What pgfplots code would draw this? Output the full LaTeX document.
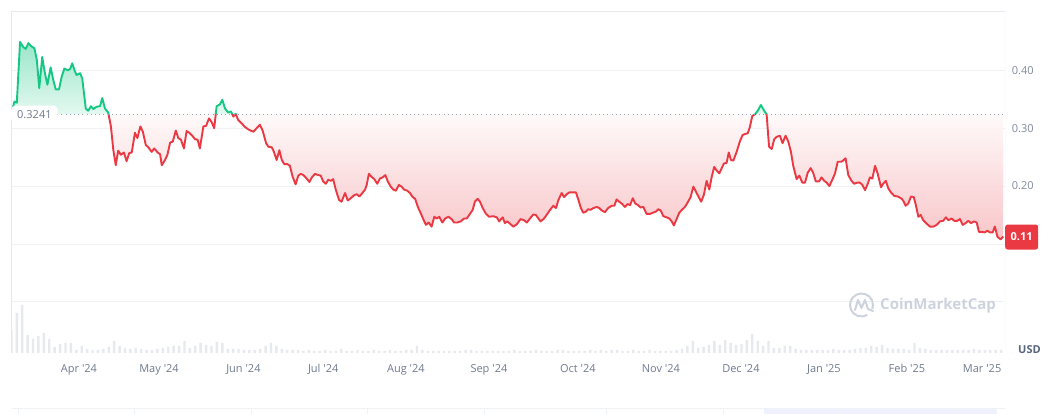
\documentclass[border=0pt]{standalone}
\usepackage{pgfplots}
\pgfplotsset{compat=1.18}
\usepackage{pgfplotstable}
\usepackage{fontspec}
\setmainfont{Open Sans}

\definecolor{upc}{HTML}{16C784}
\definecolor{downc}{HTML}{EA3943}
\definecolor{gridc}{HTML}{EFF2F5}
\definecolor{framec}{HTML}{E6E9EE}
\definecolor{labc}{HTML}{808A9D}
\definecolor{xlabc}{HTML}{6F7A8E}
\definecolor{dotc}{HTML}{9AA3B2}
\definecolor{volc}{HTML}{E6E9ED}
\definecolor{wmc}{HTML}{CDD3DD}
\definecolor{stripc}{HTML}{EFF2FE}
\definecolor{usdc}{HTML}{58667E}

% price, x = days since 1 Apr 2024
\pgfplotstableread{
d v
-24.9 0.326
-23.9 0.346
-23.0 0.344
-21.8 0.449
-20.6 0.440
-19.7 0.437
-18.7 0.447
-17.8 0.442
-16.5 0.438
-15.6 0.418
-14.7 0.369
-13.6 0.423
-12.8 0.400
-11.7 0.375
-10.5 0.405
-9.5 0.383
-8.6 0.367
-7.4 0.367
-6.4 0.389
-5.4 0.403
-4.2 0.400
-3.3 0.402
-2.5 0.412
-1.5 0.398
-0.9 0.392
0.4 0.395
1.2 0.386
2.5 0.334
3.4 0.330
4.4 0.338
5.3 0.333
6.5 0.337
7.8 0.338
8.6 0.352
9.6 0.334
10.8 0.327
11.8 0.303
12.7 0.262
13.6 0.236
14.5 0.261
15.5 0.254
16.6 0.258
17.6 0.243
18.6 0.257
19.5 0.258
20.7 0.292
21.6 0.283
22.7 0.303
23.6 0.294
24.7 0.271
25.6 0.267
26.9 0.259
27.8 0.265
29.1 0.258
30.0 0.255
30.6 0.236
31.8 0.245
32.7 0.254
33.7 0.275
34.7 0.277
35.8 0.296
36.7 0.283
37.7 0.280
38.8 0.265
39.8 0.295
40.8 0.292
41.9 0.287
42.9 0.281
43.9 0.280
44.7 0.265
46.0 0.303
47.0 0.304
48.1 0.317
49.1 0.310
50.0 0.300
50.9 0.338
52.1 0.341
53.0 0.349
54.0 0.334
55.2 0.327
56.2 0.329
57.1 0.320
57.9 0.325
58.9 0.314
60.2 0.308
61.4 0.302
62.6 0.298
63.8 0.295
64.5 0.294
65.7 0.300
66.9 0.306
67.9 0.296
69.2 0.274
70.0 0.268
71.3 0.267
72.1 0.259
73.1 0.245
74.1 0.262
75.0 0.245
75.9 0.238
77.0 0.238
78.0 0.235
79.0 0.216
80.1 0.203
81.1 0.218
82.0 0.221
83.0 0.219
84.2 0.213
85.2 0.207
86.1 0.215
87.3 0.221
88.5 0.219
89.4 0.218
90.3 0.208
91.3 0.204
92.2 0.211
93.2 0.209
94.0 0.212
95.0 0.193
96.2 0.176
97.1 0.173
98.4 0.188
99.4 0.175
100.5 0.179
101.7 0.184
102.7 0.186
103.7 0.182
104.8 0.188
105.8 0.194
106.4 0.202
107.2 0.221
108.2 0.216
109.2 0.212
110.3 0.204
111.3 0.213
112.3 0.215
113.3 0.219
114.2 0.208
115.3 0.199
116.2 0.194
117.2 0.192
118.3 0.202
119.3 0.199
120.2 0.194
121.4 0.192
122.4 0.188
123.4 0.181
124.3 0.178
125.3 0.164
126.4 0.153
127.3 0.143
128.3 0.133
129.3 0.137
130.4 0.130
131.4 0.147
132.3 0.144
133.2 0.147
134.4 0.137
135.4 0.144
136.6 0.147
137.8 0.143
138.7 0.137
139.9 0.137
141.2 0.139
142.4 0.144
143.4 0.144
144.6 0.152
145.6 0.159
146.4 0.173
147.4 0.178
148.3 0.173
149.3 0.162
150.5 0.152
151.7 0.147
153.2 0.148
154.5 0.146
155.4 0.139
156.7 0.146
157.5 0.136
158.4 0.139
159.4 0.135
160.6 0.130
161.9 0.134
163.3 0.143
164.6 0.141
165.6 0.137
166.8 0.144
168.0 0.151
169.0 0.150
169.9 0.144
170.7 0.139
172.0 0.144
173.2 0.152
174.4 0.160
175.4 0.166
176.4 0.162
177.3 0.176
178.5 0.188
179.4 0.181
180.4 0.186
181.3 0.189
182.6 0.189
183.8 0.189
184.7 0.176
185.6 0.162
186.5 0.154
187.5 0.156
188.3 0.160
189.2 0.159
190.2 0.162
191.5 0.164
192.4 0.162
193.3 0.158
194.5 0.155
195.7 0.162
197.0 0.166
198.0 0.166
198.8 0.177
199.8 0.173
200.9 0.169
201.9 0.164
202.9 0.169
203.8 0.167
204.8 0.179
205.7 0.170
206.8 0.167
207.7 0.163
208.7 0.164
209.9 0.152
211.2 0.152
212.2 0.154
213.4 0.156
214.2 0.160
215.1 0.158
216.1 0.148
217.3 0.146
218.3 0.144
219.2 0.139
220.0 0.132
221.0 0.143
222.0 0.154
223.0 0.159
224.1 0.164
225.0 0.171
226.2 0.181
227.2 0.199
228.2 0.190
229.2 0.181
230.1 0.173
231.1 0.185
232.1 0.209
233.1 0.194
234.0 0.216
234.9 0.233
235.8 0.227
236.8 0.222
237.7 0.231
238.5 0.239
239.5 0.240
240.3 0.258
241.1 0.245
242.0 0.244
243.2 0.259
244.4 0.277
245.4 0.288
246.3 0.290
247.3 0.291
248.1 0.302
249.0 0.321
250.0 0.324
251.0 0.330
252.2 0.340
253.4 0.330
254.3 0.324
255.2 0.268
256.2 0.264
257.1 0.281
258.0 0.285
259.2 0.287
260.2 0.274
261.3 0.287
262.3 0.277
263.3 0.259
264.1 0.236
265.4 0.212
266.4 0.218
267.5 0.206
268.5 0.206
269.5 0.223
270.6 0.231
271.5 0.223
272.5 0.208
273.7 0.208
274.6 0.215
275.6 0.209
276.5 0.206
277.5 0.200
278.6 0.211
279.6 0.222
280.6 0.242
281.8 0.242
282.6 0.244
283.5 0.248
284.5 0.219
285.7 0.209
286.7 0.204
287.8 0.206
288.8 0.206
289.7 0.202
290.7 0.193
291.7 0.204
292.5 0.215
293.4 0.213
294.4 0.235
295.4 0.221
296.6 0.198
297.4 0.204
298.4 0.209
299.3 0.196
300.3 0.189
301.5 0.183
302.8 0.182
304.0 0.179
304.8 0.175
305.7 0.166
306.7 0.170
307.7 0.182
308.7 0.181
309.5 0.167
310.4 0.147
311.3 0.150
312.2 0.141
313.5 0.135
314.7 0.130
315.9 0.130
317.2 0.133
318.4 0.139
319.6 0.140
320.6 0.146
321.5 0.141
322.7 0.144
323.7 0.140
324.8 0.140
325.8 0.143
326.8 0.133
327.9 0.136
328.9 0.140
329.9 0.136
331.0 0.139
332.0 0.137
332.8 0.121
334.0 0.121
335.0 0.120
335.9 0.123
336.9 0.120
337.9 0.120
338.7 0.130
339.7 0.112
340.9 0.108
341.8 0.113
}\price

% volume (bars every second day, height in arbitrary units)
\pgfplotstableread{
d vol
-25 23
-23 40
-21 48
-19 18
-17 14
-15 17
-13 20
-11 14
-9 6
-7 9
-5 10
-3 10
-1 3
1 7
3 4
5 3
7 3
9 4
11 6
13 12
15 7
17 5
19 4
21 5
23 4
25 3
27 3
29 4
31 5
33 6
35 7
37 7
39 12
41 5
43 7
45 10
47 8
49 7
51 11
53 10
55 4
57 4
59 4
61 3
63 3
65 3
67 4
69 7
71 10
73 7
75 4
77 3
79 3
81 3
83 2
85 3
87 2
89 2
91 3
93 2
95 2
97 4
99 2
101 2
103 3
105 2
107 2
109 3
111 2
113 2
115 3
117 2
119 2
121 3
123 3
125 7
127 3
129 2
131 2
133 2
135 2
137 2
139 2
141 2
143 3
145 3
147 2
149 2
151 2
153 2
155 2
157 2
159 2
161 3
163 2
165 2
167 2
169 3
171 2
173 2
175 2
177 3
179 3
181 2
183 2
185 2
187 2
189 3
191 2
193 3
195 2
197 3
199 3
201 2
203 2
205 3
207 2
209 2
211 3
213 2
215 2
217 2
219 2
221 3
223 4
225 7
227 12
229 5
231 6
233 8
235 12
237 8
239 13
241 10
243 8
245 9
247 13
249 19
251 12
253 7
255 12
257 5
259 5
261 7
263 7
265 4
267 3
269 3
271 3
273 3
275 3
277 3
279 4
281 3
283 3
285 3
287 4
289 5
291 5
293 7
295 6
297 8
299 5
301 4
303 4
305 4
307 3
309 10
311 5
313 4
315 3
317 3
319 3
321 3
323 3
325 3
327 3
329 3
331 4
333 3
335 3
337 3
339 3
341 3
}\volume

\pgfplotsset{
  base/.style={
    scale only axis, width=994pt, anchor=south west,
    xmin=-25.15, xmax=342.46,
  },
}

\begin{document}
\begin{tikzpicture}[x=1pt,y=1pt]
\useasboundingbox (0,0) rectangle (1061,414);

% volume
\begin{axis}[base, at={(11pt,61pt)}, height=51pt, ymin=0, ymax=51, hide axis]
\addplot[ybar, bar width=2.4pt, fill=volc, draw=none] table[x=d,y=vol]{\volume};
\end{axis}

% grid, frame and labels
\begin{axis}[base, at={(11pt,61pt)}, height=342pt,
  ymin=-0.0883, ymax=0.5024,
  axis line style={draw=none}, tick style={draw=none},
  ytick={0,0.1,0.2,0.3,0.4}, yticklabels={,,0.20,0.30,0.40},
  yticklabel pos=right,
  ymajorgrids, grid style={gridc, line width=0.9pt},
  xtick={0,29.6,60.8,90.3,120.9,151.6,184.5,215.2,244.8,275.5,306.2,334},
  xticklabels={Apr \textquotesingle24, May \textquotesingle24, Jun \textquotesingle24,
    Jul \textquotesingle24, Aug \textquotesingle24, Sep \textquotesingle24,
    Oct \textquotesingle24, Nov \textquotesingle24, Dec \textquotesingle24,
    Jan \textquotesingle25, Feb \textquotesingle25, Mar \textquotesingle25},
  yticklabel style={anchor=west, inner sep=0pt, xshift=6.7pt,
    font=\fontsize{11}{13}\selectfont, text=labc},
  xticklabel style={anchor=base, inner sep=0pt, yshift=-19.7pt,
    font=\fontsize{11}{13}\selectfont, text=xlabc},
]
\draw[framec, line width=0.9pt] (rel axis cs:0,0) -- (rel axis cs:0,1)
  -- (rel axis cs:1,1) -- (rel axis cs:1,0);
\end{axis}

% above the open price
\begin{axis}[base, at={(11pt,299.77pt)}, height=103.23pt,
  ymin=0.3241, ymax=0.5024, hide axis]
\addplot[draw=none, fill opacity=0.9, top color=upc!48!white, bottom color=upc!13!white,
  y filter/.expression={max(y,0.3241)}]
  table[x=d,y=v]{\price} -- (axis cs:341.8,0.3241) -- (axis cs:-24.9,0.3241) -- cycle;
\addplot[upc, line width=1.9pt, line join=round] table[x=d,y=v]{\price};
\end{axis}

% below the open price
\begin{axis}[base, at={(11pt,61pt)}, height=238.77pt,
  ymin=-0.0883, ymax=0.3241, hide axis]
\addplot[draw=none, fill opacity=0.9, top color=downc!3!white, bottom color=downc!32!white,
  y filter/.expression={min(y,0.3241)}]
  table[x=d,y=v]{\price} -- (axis cs:341.8,0.3241) -- (axis cs:-24.9,0.3241) -- cycle;
\addplot[downc, line width=1.9pt, line join=round] table[x=d,y=v]{\price};
\end{axis}

% open price line and tags
\begin{axis}[base, at={(11pt,61pt)}, height=342pt,
  ymin=-0.0883, ymax=0.5024, hide axis, clip=false]
\addplot[dotc, line width=0.9pt, dash pattern=on 0.9pt off 3.3pt]
  coordinates {(-25.15,0.3241) (342.46,0.3241)};
\node[fill=white, rounded corners=4pt, anchor=west, inner xsep=6pt, inner ysep=4.5pt,
  text=xlabc, font=\fontsize{11}{13}\selectfont] at (axis cs:-25.15,0.3241) {0.3241};
\node[fill=downc, rounded corners=2.5pt, anchor=west, inner xsep=5.5pt,
  minimum height=25pt, text=white, font=\bfseries\fontsize{11}{13}\selectfont]
  at (axis cs:342.46,0.112) {0.11};
\end{axis}

% currency
\node[anchor=west, text=usdc, font=\bfseries\fontsize{11}{13}\selectfont, inner sep=0pt]
  at (1018,64) {USD};

% watermark
\draw[wmc, line width=2pt] (861.5,109) ++(-20:11.5) arc (-20:300:11.5);
\draw[wmc, line width=2pt, line join=round, line cap=round]
  (855,104) -- (858,114) -- (861.5,106) -- (865,114) -- (868,105) -- (873,103);
\node[anchor=west, text=wmc, font=\bfseries\fontsize{15}{17}\selectfont, inner sep=0pt]
  at (880,108.5) {CoinMarketCap};

% range selector strip
\fill[stripc] (764,0) rectangle (997,6);
\draw[gridc, line width=0.9pt] (12,6) -- (1005,6);
\foreach \x in {18,134.5,251,367,484,606,723,838,956}
  \draw[gridc, line width=0.9pt] (\x,0) -- (\x,6);
\end{tikzpicture}
\end{document}
